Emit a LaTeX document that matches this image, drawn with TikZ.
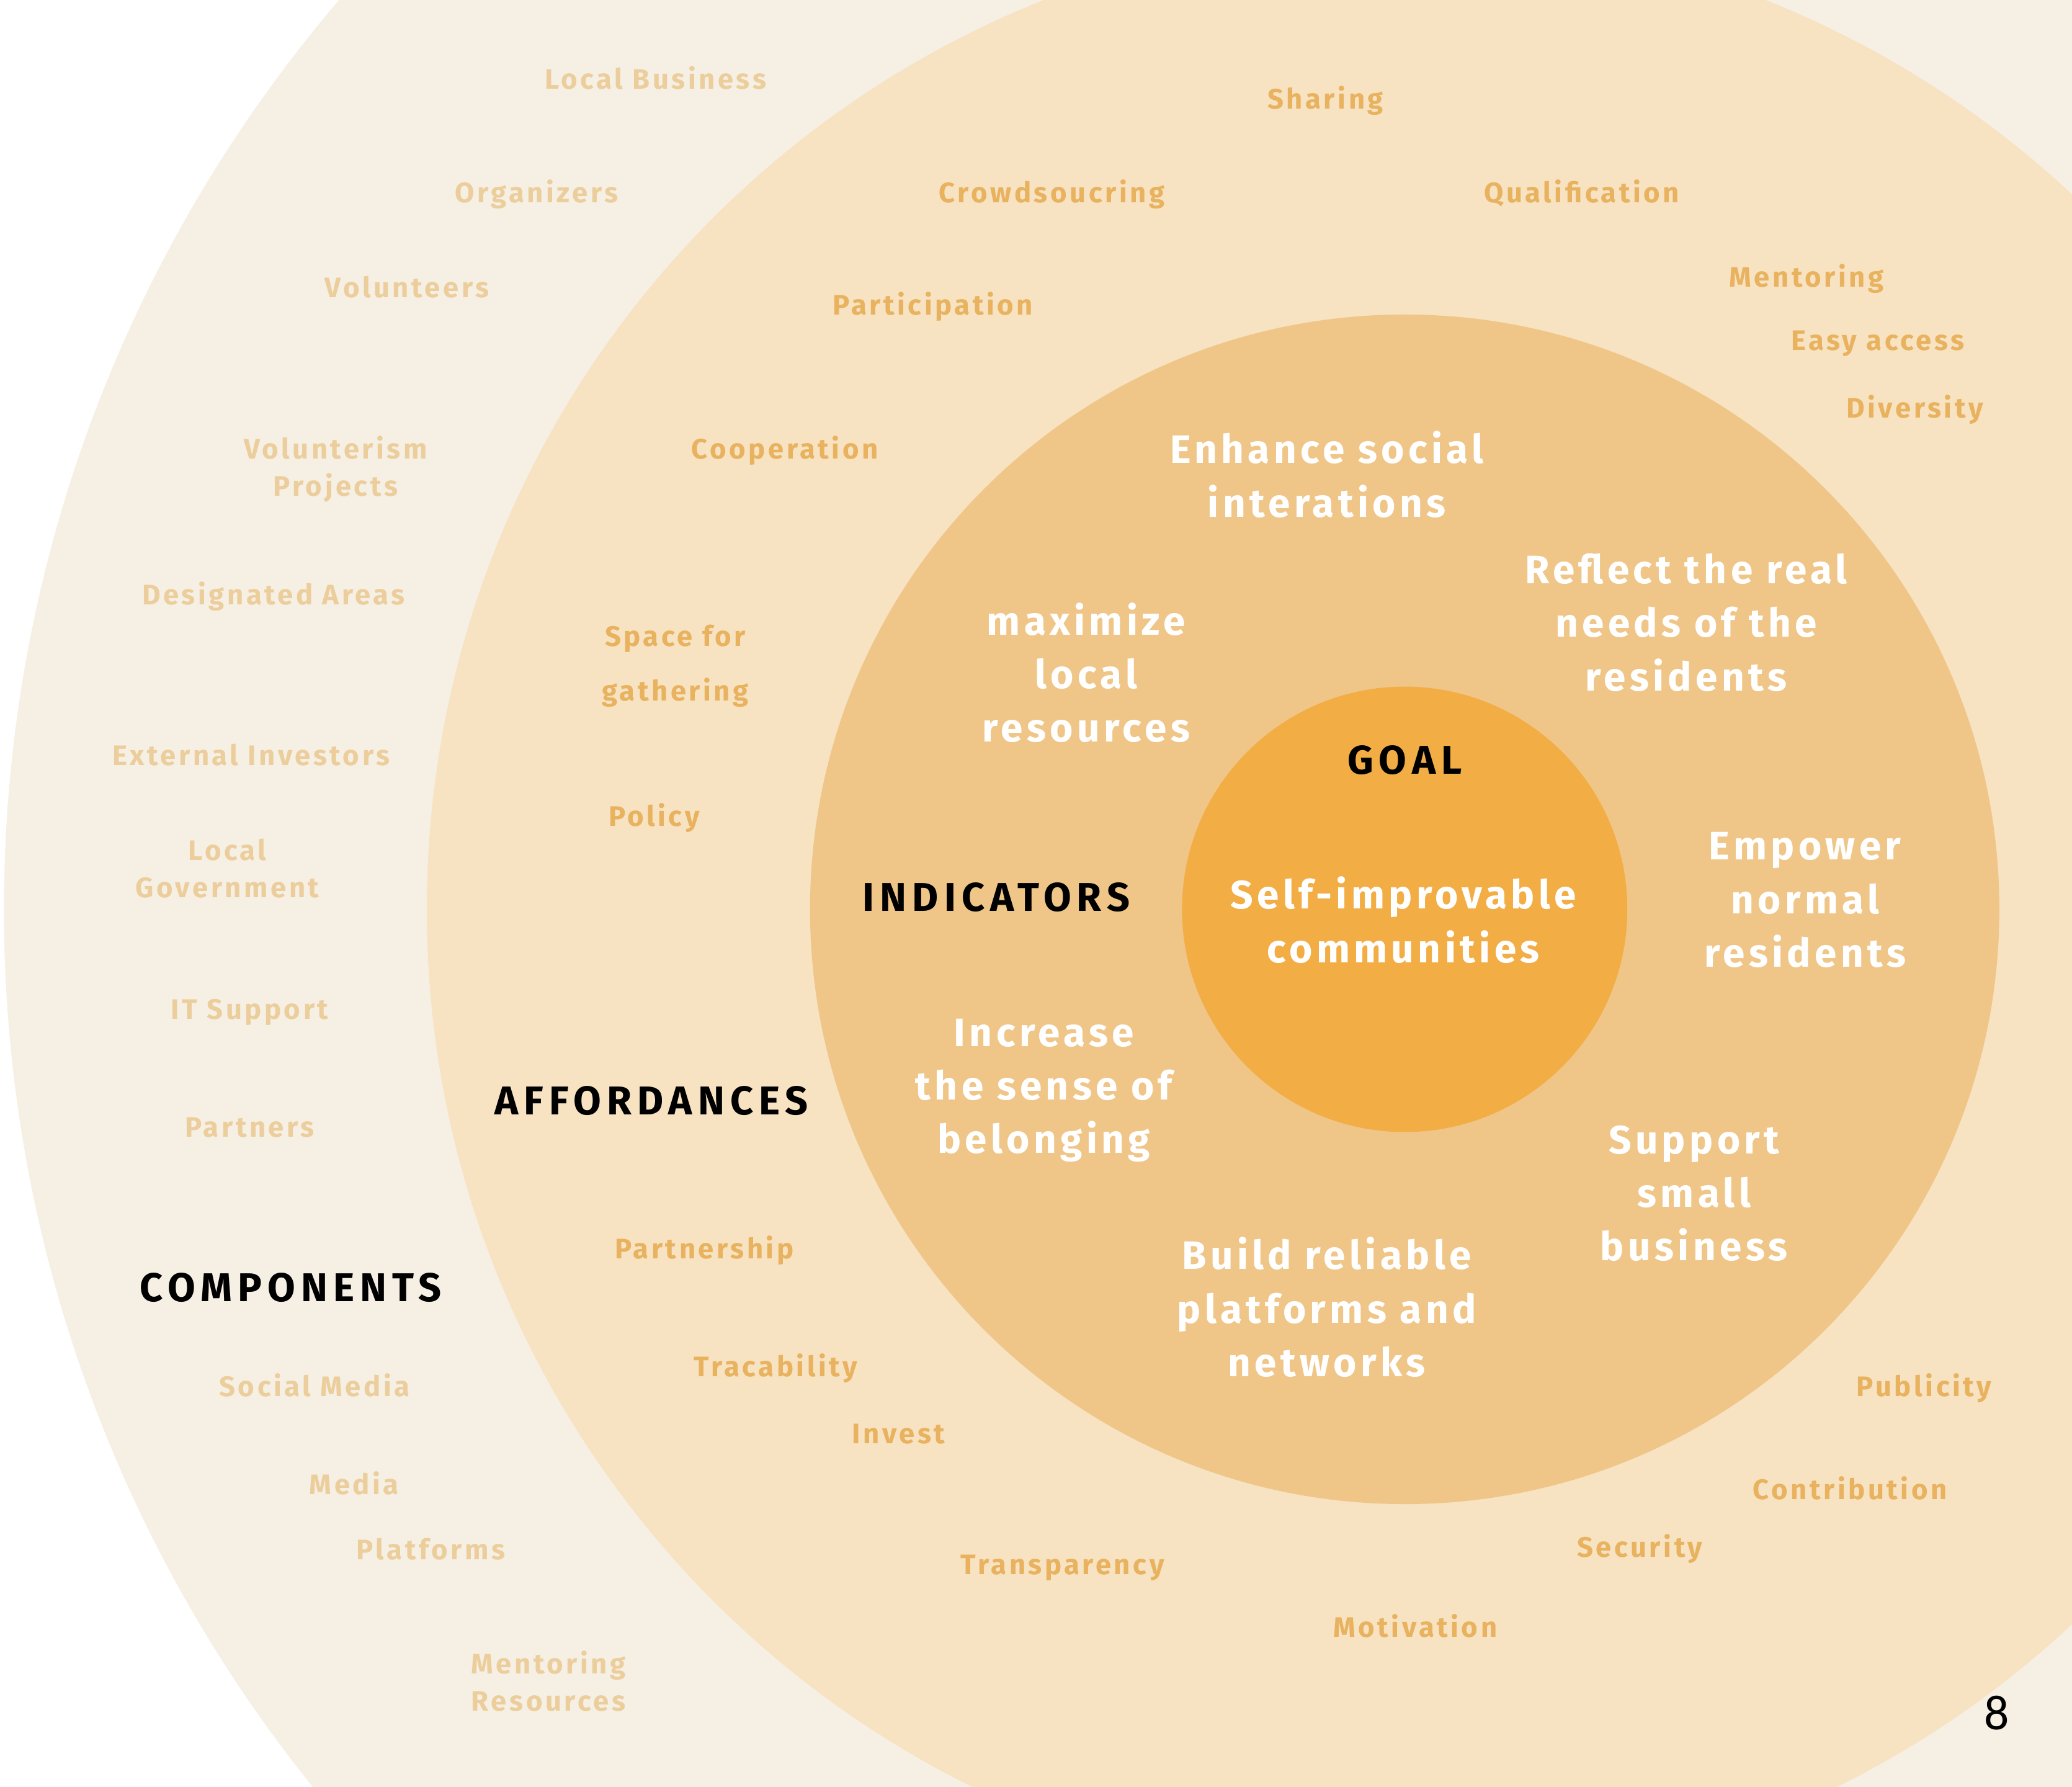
\documentclass[tikz,border=0pt]{standalone}
\usepackage{fontspec}
\usepackage{xcolor}
\setmainfont{Fira Sans}
\newfontfamily\spacedfont[LetterSpace=10]{Fira Sans}
\newfontfamily\headfont[LetterSpace=14]{Fira Sans}
\newfontfamily\pagefont{Carlito}

\definecolor{ringComp}{HTML}{F6EFE4}
\definecolor{ringAff}{HTML}{F7E2C2}
\definecolor{ringInd}{HTML}{EFC688}
\definecolor{ringGoal}{HTML}{F2AD45}
\definecolor{compText}{HTML}{ECCE9C}
\definecolor{affText}{HTML}{E8B25E}

\tikzset{
  comp/.style={text=compText, align=center, inner sep=0.75pt,
    font=\spacedfont\bfseries\fontsize{16}{21}\selectfont},
  aff/.style={text=affText, align=center, inner sep=0.75pt,
    font=\spacedfont\bfseries\fontsize{16}{21}\selectfont},
  ind/.style={text=white, align=center, inner sep=0.75pt,
    font=\spacedfont\bfseries\fontsize{22.5}{30.4}\selectfont},
  head/.style={text=black, align=center, inner sep=0.75pt,
    font=\headfont\bfseries\fontsize{22.8}{26}\selectfont}
}

\begin{document}
\begin{tikzpicture}[x=0.75pt,y=0.75pt,yscale=-1,xscale=1]
\useasboundingbox (0,0) rectangle (1568,1352);
\clip (0,0) rectangle (1568,1352);
\fill [white] (0,0) rectangle (1568,1352);

%Shape: Circle [components]
\fill [ringComp] (1063,688) circle (1060);
%Shape: Circle [affordances]
\fill [ringAff] (1063,688) circle (740);
%Shape: Circle [indicators]
\fill [ringInd] (1063,688) circle (450);
%Shape: Circle [goal]
\fill [ringGoal] (1063,688) circle (168.5);

% Text Node: components
\node [comp] (localbusiness) at (496,59) {Local Business};
\node [comp] (organizers) at (406,147) {Organizers};
\node [comp] (volunteers) at (308,217) {Volunteers};
\node [comp] (projects) at (254,355) {Volunterism\\Projects};
\node [comp] (areas) at (207,451) {Designated Areas};
\node [comp] (investors) at (190,571) {External Investors};
\node [comp] (government) at (172,657) {Local\\Government};
\node [comp] (itsupport) at (189,766) {IT Support};
\node [comp] (partners) at (189,853) {Partners};
\node [comp] (socialmedia) at (238,1048) {Social Media};
\node [comp] (media) at (268,1122) {Media};
\node [comp] (platforms) at (326,1172) {Platforms};
\node [comp] (resources) at (415,1272) {Mentoring\\Resources};

% Text Node: affordances
\node [aff] (sharing) at (1003,76) {Sharing};
\node [aff] (crowd) at (796,147) {Crowdsoucring};
\node [aff] (qualification) at (1197,146) {Qualification};
\node [aff] (participation) at (706,232) {Participation};
\node [aff] (mentoring) at (1367,211) {Mentoring};
\node [aff] (easyaccess) at (1421,260) {Easy access};
\node [aff] (diversity) at (1449,310) {Diversity};
\node [aff] (cooperation) at (594,341) {Cooperation};
\node [aff] (space) at (511,504) {Space for\\[10pt]gathering};
\node [aff] (policy) at (495,619) {Policy};
\node [aff] (partnership) at (533,946) {Partnership};
\node [aff] (tracability) at (587,1035) {Tracability};
\node [aff] (invest) at (680,1085) {Invest};
\node [aff] (transparency) at (804,1186) {Transparency};
\node [aff] (motivation) at (1071,1230) {Motivation};
\node [aff] (security) at (1241,1172) {Security};
\node [aff] (contribution) at (1400,1126) {Contribution};
\node [aff] (publicity) at (1456,1050) {Publicity};

% Text Node: indicators
\node [ind] (enhance) at (1004,359) {Enhance social\\interations};
\node [ind] (maximize) at (822,509) {maximize\\local\\resources};
\node [ind] (reflect) at (1276,471) {Reflect the real\\needs of the\\residents};
\node [ind] (empower) at (1366,681) {Empower\\normal\\residents};
\node [ind] (increase) at (790,825) {Increase\\the sense of\\belonging};
\node [ind] (support) at (1282,903) {Support\\small\\business};
\node [ind] (build) at (1004,989) {Build reliable\\platforms and\\networks};

% Text Node: goal
\node [ind] (selfimp) at (1062,696) {Self-improvable\\communities};

% Text Node: ring titles
\node [head] (goal) at (1063,575) {GOAL};
\node [head] (indicators) at (754,679) {INDICATORS};
\node [head] (affordances) at (493,833) {AFFORDANCES};
\node [head] (components) at (220,974) {COMPONENTS};

% Text Node: page number
\node [inner sep=0.75pt, font=\pagefont\fontsize{28}{30}\selectfont] (pagenum) at (1511,1296) {8};

\end{tikzpicture}
\end{document}
